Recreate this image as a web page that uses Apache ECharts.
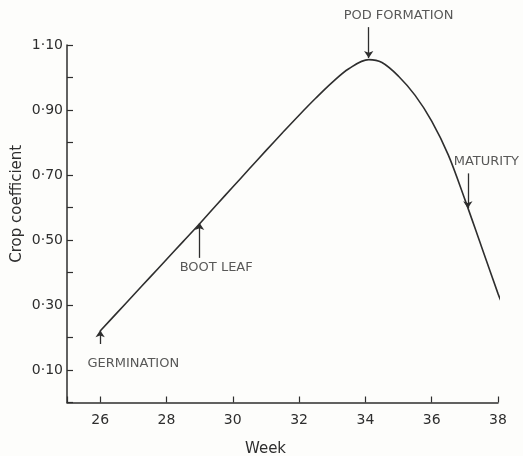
<!DOCTYPE html>
<html>
<head>
<meta charset="utf-8">
<title>Crop coefficient</title>
<script src="https://cdn.jsdelivr.net/npm/echarts@6/dist/echarts.min.js"></script>
<style>
  html, body { margin: 0; padding: 0; background: #fdfdfb; }
  #myChart { width: 523px; height: 456px; }
</style>
</head>
<body>
<div id="myChart"></div>
<script>
// curve, peak at 34.1
let weeks = [26, 26.5, 27, 27.5, 28, 28.5, 29, 29.5, 30, 30.5, 31, 31.5, 32, 32.5, 33, 33.5, 34.1, 34.5, 35, 35.5, 36, 36.5, 37, 37.5, 38, 38.1];
let coef  = [0.22, 0.275, 0.33, 0.385, 0.44, 0.495, 0.55, 0.607, 0.663, 0.719, 0.775, 0.83, 0.884, 0.936, 0.985, 1.027, 1.055, 1.046, 1.004, 0.945, 0.866, 0.762, 0.625, 0.48, 0.335, 0.31];

// stage notes: text and arrows
let stageText  = ['GERMINATION', 'BOOT LEAF', 'POD FORMATION', 'MATURITY'];
let stageTextX = [27.0, 29.5, 35.0, 37.65];
let stageTextY = [0.12, 0.414, 1.19, 0.74];
let arrowX     = [26, 29, 34.1, 37.09];
let arrowFrom  = [0.18, 0.445, 1.155, 0.705];
let arrowTo    = [0.222, 0.552, 1.06, 0.598];

let ink = '#2e2e2e';
let font = 'DejaVu Sans';

let curve = weeks.map(function (w, i) { return [w, coef[i]]; });
let notes = stageText.map(function (t, i) { return { name: t, value: [stageTextX[i], stageTextY[i]] }; });
let arrows = arrowX.map(function (x, i) { return { coords: [[x, arrowFrom[i]], [x, arrowTo[i]]] }; });

let Chart = echarts.init(document.getElementById('myChart'));
Chart.setOption({
  animation: false,
  backgroundColor: '#fdfdfb',
  grid: { left: 67, right: 25, top: 45, bottom: 53.5, containLabel: false, outerBoundsMode: 'none' },
  xAxis: {
    type: 'value',
    min: 25,
    max: 38,
    splitNumber: 6,
    name: 'Week',
    nameLocation: 'middle',
    nameGap: 39,
    nameMoveOverlap: false,
    nameTextStyle: { color: ink, fontFamily: font, fontSize: 15, padding: [0, 34, 0, 0] },
    axisLine: { show: true, lineStyle: { color: ink, width: 1.5 } },
    axisTick: { show: true, inside: true, length: 6, lineStyle: { color: ink, width: 1.2 } },
    axisLabel: {
      color: ink, fontFamily: font, fontSize: 14, margin: 11,
      formatter: function (v) { return v === 25 ? '' : String(v); }
    },
    splitLine: { show: false }
  },
  yAxis: {
    type: 'value',
    min: 0,
    max: 1.1,
    interval: 0.1,
    name: 'Crop coefficient',
    nameLocation: 'middle',
    nameGap: 42,
    nameMoveOverlap: false,
    nameTextStyle: { color: ink, fontFamily: font, fontSize: 15, padding: [0, 0, 0, 40] },
    axisLine: { show: true, lineStyle: { color: ink, width: 1.5 } },
    axisTick: { show: true, inside: true, length: 6, lineStyle: { color: ink, width: 1.2 } },
    axisLabel: {
      color: ink, fontFamily: font, fontSize: 14, margin: 4,
      formatter: function (v) {
        let k = Math.round(v * 10);
        if (k % 2 === 0) return '';
        return (k / 10).toFixed(2).replace('.', '\u00b7');
      }
    },
    splitLine: { show: false }
  },
  series: [
    {
      name: 'Crop coefficient',
      type: 'line',
      data: curve,
      smooth: 0.35,
      symbol: 'none',
      clip: false,
      lineStyle: { color: ink, width: 1.6 }
    },
    {
      type: 'lines',
      coordinateSystem: 'cartesian2d',
      data: arrows,
      symbol: ['none', 'arrow'],
      symbolSize: 7,
      clip: false,
      lineStyle: { color: ink, width: 1.3, opacity: 1 }
    },
    {
      type: 'scatter',
      data: notes,
      symbolSize: 0,
      clip: false,
      label: {
        show: true,
        position: 'inside',
        formatter: '{b}',
        color: ink,
        fontFamily: font,
        fontSize: 13
      }
    }
  ]
});
</script>
</body>
</html>
